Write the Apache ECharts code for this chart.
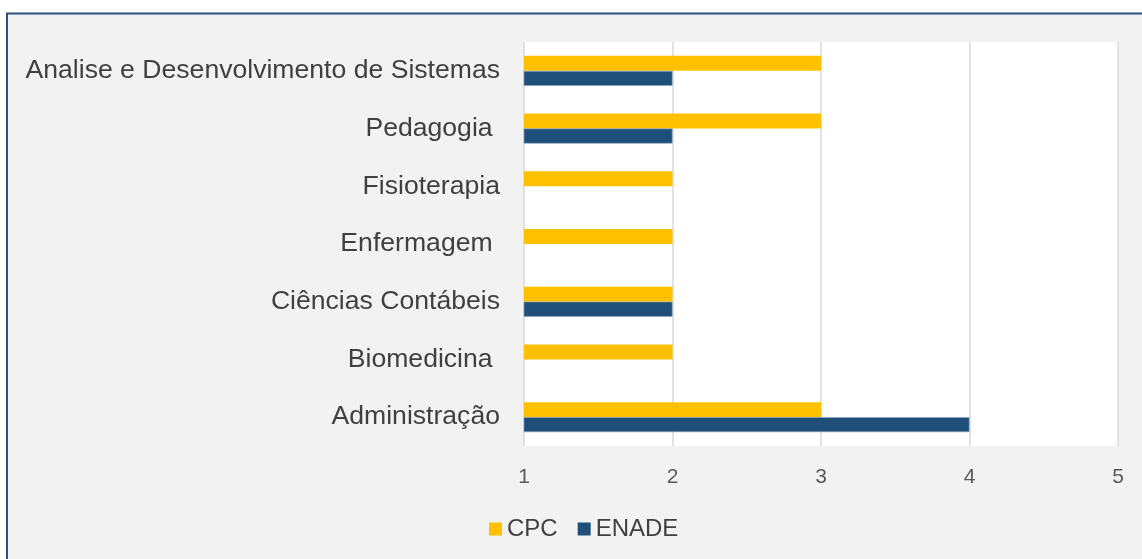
<!DOCTYPE html>
<html>
<head>
<meta charset="utf-8">
<script src="https://cdn.jsdelivr.net/npm/echarts@6/dist/echarts.min.js"></script>
<style>
html,body{margin:0;padding:0;background:#ffffff;}
#chart{width:1142px;height:559px;}
</style>
</head>
<body>
<div id="chart"></div>
<script>
var categories = ['Administração', 'Biomedicina ', 'Ciências Contábeis', 'Enfermagem ', 'Fisioterapia', 'Pedagogia ', 'Analise e Desenvolvimento de Sistemas'];
var cpcValues = [3, 2, 2, 2, 2, 3, 3];
var enadeValues = [4, null, 2, null, null, 2, 2];
var xTicks = [1, 2, 3, 4, 5];

var sans = '"Liberation Sans", Arial, sans-serif';
var chart = echarts.init(document.getElementById('chart'), null, {renderer: 'canvas'});
chart.setOption({
  backgroundColor: '#ffffff',
  animation: false,
  graphic: [{
    type: 'rect',
    z: -10,
    shape: {x: 7, y: 13.5, width: 1200, height: 600},
    style: {fill: '#f2f2f2', stroke: '#2b4f78', lineWidth: 2}
  }],
  grid: {
    left: 524, right: 24, top: 42, bottom: 113,
    show: true, backgroundColor: '#ffffff', borderWidth: 0
  },
  legend: {
    left: 489, top: 517, padding: 0,
    itemWidth: 13, itemHeight: 13, itemGap: 20,
    icon: 'rect',
    itemStyle: {borderWidth: 0},
    textStyle: {fontFamily: sans, fontSize: 24, color: '#404040'},
    data: ['CPC', 'ENADE']
  },
  xAxis: {
    type: 'value',
    min: xTicks[0], max: xTicks[xTicks.length - 1], interval: 1,
    axisLine: {show: false},
    axisTick: {show: false},
    axisLabel: {
      margin: 21,
      fontFamily: sans,
      fontSize: 21, color: '#595959'
    },
    splitLine: {show: true, lineStyle: {color: '#d9d9d9', width: 1.5}}
  },
  yAxis: {
    type: 'category',
    data: categories,
    axisLine: {show: false},
    axisTick: {show: false},
    axisLabel: {
      margin: 24,
      fontFamily: sans,
      fontSize: 26.6, color: '#404040'
    },
    splitLine: {show: false}
  },
  series: [{
    name: 'CPC',
    type: 'bar',
    data: cpcValues,
    barWidth: 15,
    barGap: '0%',
    clip: true,
    itemStyle: {color: '#ffc000'}
  }, {
    name: 'ENADE',
    type: 'bar',
    data: enadeValues,
    barWidth: 15,
    barGap: '0%',
    clip: true,
    itemStyle: {color: '#1f4e79', borderColor: '#8aa2bd', borderWidth: 0.6}
  }]
});
</script>
</body>
</html>
